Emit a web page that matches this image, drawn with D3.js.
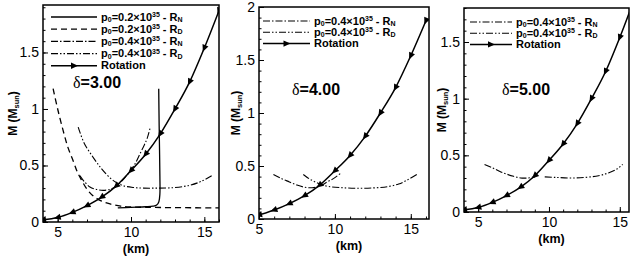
<!DOCTYPE html>
<html>
<head>
<meta charset="utf-8">
<title>M-R</title>
<script src="https://cdn.jsdelivr.net/npm/d3@7"></script>
<style>
  body { margin: 0; background: #fff; }
  text { font-family: "Liberation Sans", Arial, sans-serif; }
</style>
</head>
<body>
<svg id="chart" width="639" height="263"></svg>
<script>
// rotation curve, same in every panel
var rotR = [4, 5, 6, 7, 8, 9, 10, 11, 12, 13, 14, 15, 16];
var rotM = [0.02, 0.04, 0.085, 0.145, 0.22, 0.32, 0.455, 0.6, 0.78, 1.0, 1.24, 1.54, 1.87];

// delta = 3
var d3_rn02R = [9.1, 10, 11, 11.5, 11.75, 11.9, 11.97, 11.97, 11.95, 11.92, 11.89];
var d3_rn02M = [0.125, 0.13, 0.135, 0.14, 0.15, 0.18, 0.25, 0.4, 0.6, 0.85, 1.18];
var d3_rd02R = [4.69, 5.0, 5.37, 5.7, 6.06, 6.35, 6.63, 7.0, 7.43, 8.0, 8.57, 9.3, 9.94, 11, 12.9, 16];
var d3_rd02M = [1.18, 1.0, 0.81, 0.66, 0.54, 0.44, 0.37, 0.29, 0.23, 0.185, 0.16, 0.14, 0.133, 0.13, 0.127, 0.125];
var d3_rn04R = [6.51, 6.8, 7.2, 7.6, 8.1, 8.6, 9.03, 9.5, 9.94, 10.3, 10.6, 10.9, 11.1, 11.32];
var d3_rn04M = [0.41, 0.36, 0.31, 0.29, 0.28, 0.29, 0.32, 0.38, 0.45, 0.52, 0.6, 0.68, 0.74, 0.84];
var d3_rd04R = [6.4, 6.8, 7.43, 8, 8.57, 9.0, 9.49, 10.2, 10.86, 11.9, 13, 14, 14.8, 15.5];
var d3_rd04M = [0.84, 0.7, 0.57, 0.47, 0.39, 0.35, 0.32, 0.305, 0.3, 0.3, 0.305, 0.325, 0.36, 0.41];

// delta = 4
var d4_rn04R = [5.95, 6.5, 7, 7.5, 8, 8.5, 9, 9.5, 10, 10.45];
var d4_rn04M = [0.42, 0.38, 0.35, 0.32, 0.3, 0.295, 0.31, 0.35, 0.39, 0.44];
var d4_rd04R = [7.92, 8.3, 8.7, 9.1, 9.6, 10.5, 11.5, 12.5, 13.5, 14.2, 14.8, 15.4];
var d4_rd04M = [0.42, 0.38, 0.35, 0.325, 0.306, 0.295, 0.29, 0.293, 0.306, 0.33, 0.37, 0.42];

// delta = 5
var d5_rn04R = [5.45, 6, 6.5, 7, 7.5, 8, 8.5, 9];
var d5_rn04M = [0.42, 0.39, 0.36, 0.335, 0.315, 0.3, 0.3, 0.31];
var d5_rd04R = [9.7, 10.5, 11.5, 12.5, 13.5, 14.2, 14.8, 15.2];
var d5_rd04M = [0.31, 0.305, 0.3, 0.305, 0.32, 0.345, 0.38, 0.42];

var xTicks = [5, 10, 15];
var yTicks3 = [0, 0.5, 1, 1.5];
var yTicks4 = [0, 0.5, 1, 1.5, 2];

var styles = {
  rn02: { dash: null, w: 1.3 },
  rd02: { dash: "6,4", w: 1.3 },
  rn04: { dash: "7,2,1.5,2", w: 1.1 },
  rd04: { dash: "7,2,1.5,2,1.5,2", w: 1.1 }
};

function zip(a, b) { return a.map(function(v, i) { return [v, b[i]]; }); }

var panels = [
  { box: [43, 219, 5, 222], xd: [4, 16], yd: [0, 1.92], yt: yTicks3, delta: "3.00", dPos: [73, 88],
    ytitle: 17, legend: { x0: 51, x1: 97, y: 17, dy: 12.2 },
    curves: [
      { key: "rn02", p: "0.2", r: "N", d: zip(d3_rn02R, d3_rn02M) },
      { key: "rd02", p: "0.2", r: "D", d: zip(d3_rd02R, d3_rd02M) },
      { key: "rn04", p: "0.4", r: "N", d: zip(d3_rn04R, d3_rn04M) },
      { key: "rd04", p: "0.4", r: "D", d: zip(d3_rd04R, d3_rd04M) }
    ] },
  { box: [259, 429, 7, 219], xd: [5, 16.2], yd: [0, 2], yt: yTicks4, delta: "4.00", dPos: [292, 95],
    ytitle: 240, legend: { x0: 263, x1: 310, y: 21, dy: 11.3 },
    curves: [
      { key: "rn04", p: "0.4", r: "N", d: zip(d4_rn04R, d4_rn04M) },
      { key: "rd04", p: "0.4", r: "D", d: zip(d4_rd04R, d4_rd04M) }
    ] },
  { box: [464, 629, 8, 212], xd: [4, 15.65], yd: [0, 1.8], yt: yTicks3, delta: "5.00", dPos: [502, 95],
    ytitle: 446, legend: { x0: 470, x1: 512, y: 22, dy: 11.2 },
    curves: [
      { key: "rn04", p: "0.4", r: "N", d: zip(d5_rn04R, d5_rn04M) },
      { key: "rd04", p: "0.4", r: "D", d: zip(d5_rd04R, d5_rd04M) }
    ] }
];

var svg = d3.select("#chart");

function tri(g, x, y, ang) {
  g.append("path")
    .attr("d", "M4,0 L-3,-3.2 L-3,3.2 Z")
    .attr("transform", "translate(" + x + "," + y + ") rotate(" + ang + ")")
    .attr("fill", "#000");
}

panels.forEach(function(P, pi) {
  var L = P.box[0], R = P.box[1], T = P.box[2], B = P.box[3];
  var x = d3.scaleLinear().domain(P.xd).range([L, R]);
  var y = d3.scaleLinear().domain(P.yd).range([B, T]);
  var g = svg.append("g");

  g.append("clipPath").attr("id", "clip" + pi)
    .append("rect").attr("x", L).attr("y", T).attr("width", R - L).attr("height", B - T);

  // axes with inward ticks
  var xMinor = d3.range(Math.ceil(P.xd[0]), Math.floor(P.xd[1]) + 1);
  var yMinor = d3.range(0, P.yd[1] + 1e-6, 0.1);
  g.append("g").attr("transform", "translate(0," + B + ")")
    .call(d3.axisBottom(x).tickValues(xTicks).tickSize(-5).tickPadding(5).tickFormat(d3.format("d")));
  g.append("g").attr("transform", "translate(0," + B + ")")
    .call(d3.axisBottom(x).tickValues(xMinor).tickSize(-2.5).tickFormat(""));
  g.append("g").attr("transform", "translate(" + L + ",0)")
    .call(d3.axisLeft(y).tickValues(P.yt).tickSize(-5).tickPadding(4).tickFormat(function(d) { return String(d); }));
  g.append("g").attr("transform", "translate(" + L + ",0)")
    .call(d3.axisLeft(y).tickValues(yMinor).tickSize(-2.5).tickFormat(""));
  g.selectAll(".tick text").attr("font-size", 14).attr("font-family", "Liberation Sans, Arial, sans-serif").attr("fill", "#000");
  g.selectAll(".tick line").attr("stroke", "#000");
  g.selectAll(".domain").remove();

  g.append("rect").attr("x", L).attr("y", T).attr("width", R - L).attr("height", B - T)
    .attr("fill", "none").attr("stroke", "#000").attr("stroke-width", 1.5);

  // titles
  g.append("text").attr("x", (L + R) / 2 + 5).attr("y", B + 31)
    .attr("text-anchor", "middle").attr("font-size", 12.5).attr("font-weight", "bold").text("(km)");
  var yt = g.append("text").attr("transform", "translate(" + P.ytitle + "," + ((T + B) / 2) + ") rotate(-90)")
    .attr("text-anchor", "middle").attr("font-size", 12).attr("font-weight", "bold");
  yt.append("tspan").text("M (M");
  yt.append("tspan").attr("font-size", 7.5).attr("dy", 1.5).text("sun");
  yt.append("tspan").attr("dy", -1.5).text(")");

  var line = d3.line().x(function(d) { return x(d[0]); }).y(function(d) { return y(d[1]); }).curve(d3.curveMonotoneX);
  var lineC = d3.line().x(function(d) { return x(d[0]); }).y(function(d) { return y(d[1]); }).curve(d3.curveCatmullRom);
  var plot = g.append("g").attr("clip-path", "url(#clip" + pi + ")");

  P.curves.forEach(function(c) {
    plot.append("path").attr("d", lineC(c.d)).attr("fill", "none").attr("stroke", "#000")
      .attr("stroke-width", styles[c.key].w).attr("stroke-dasharray", styles[c.key].dash);
  });

  var rot = zip(rotR, rotM);
  plot.append("path").attr("d", line(rot)).attr("fill", "none").attr("stroke", "#000").attr("stroke-width", 1.5);
  rot.forEach(function(d, i) {
    var a = rot[Math.max(i - 1, 0)], b = rot[Math.min(i + 1, rot.length - 1)];
    var ang = Math.atan2(y(a[1]) - y(b[1]), x(a[0]) - x(b[0])) * 180 / Math.PI;
    tri(plot, x(d[0]), y(d[1]), ang);
  });

  // legend
  var lg = P.legend;
  var items = P.curves.concat([{ key: "rot" }]);
  items.forEach(function(c, i) {
    var yy = lg.y + i * lg.dy;
    var ln = g.append("line").attr("x1", lg.x0).attr("x2", lg.x1).attr("y1", yy).attr("y2", yy)
      .attr("stroke", "#000");
    var t = g.append("text").attr("x", lg.x1 + 4).attr("y", yy + 3.5).attr("font-size", 11).attr("font-weight", "bold");
    if (c.key === "rot") {
      ln.attr("stroke-width", 1.5);
      tri(g, (lg.x0 + lg.x1) / 2, yy, 0);
      t.text("Rotation");
    } else {
      ln.attr("stroke-width", styles[c.key].w).attr("stroke-dasharray", styles[c.key].dash);
      t.append("tspan").text("p");
      t.append("tspan").attr("font-size", 7).attr("dy", 1.5).text("0");
      t.append("tspan").attr("dy", -1.5).text("=" + c.p + "\u00d710");
      t.append("tspan").attr("font-size", 7).attr("dy", -3.5).text("35");
      t.append("tspan").attr("dy", 3.5).text(" - R");
      t.append("tspan").attr("font-size", 7).attr("dy", 1.5).text(c.r);
    }
  });

  // delta label
  var dt = g.append("text").attr("x", P.dPos[0]).attr("y", P.dPos[1]).attr("font-size", 16).attr("font-weight", "bold");
  dt.append("tspan").attr("font-family", "Liberation Serif, Times New Roman, serif").attr("font-weight", "normal").text("\u03b4");
  dt.append("tspan").text("=" + P.delta);
});
</script>
</body>
</html>
